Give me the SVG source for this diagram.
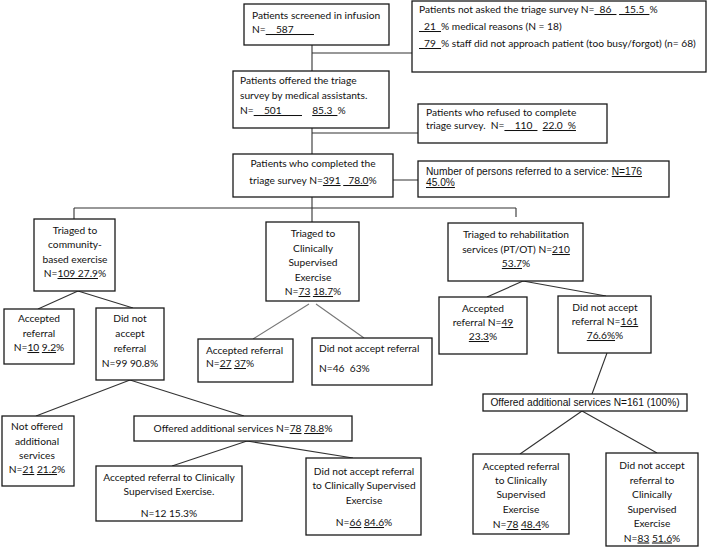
<svg xmlns="http://www.w3.org/2000/svg" width="708" height="550" viewBox="0 0 708 550">
<style>
.b{fill:#fff;stroke:#1a1a1a;stroke-width:1.3}
.t{font-family:Lato,"Liberation Sans",sans-serif;font-size:10.2px;fill:#111;white-space:pre}
.a{font-family:"Liberation Sans",Arial,sans-serif;font-size:10.2px;fill:#111;white-space:pre}
.c{text-anchor:middle}
.u{text-decoration:underline}
.ln{stroke:#333;stroke-width:1.1;fill:none}
.lg{stroke:#777;stroke-width:1.1;fill:none}
</style>
<rect width="708" height="550" fill="#fff"/>
<g id="connectors">
<path class="ln" d="M312,45V71M312,53H412M312,128V154M312,133H418M393,180H418M312,197V222M74,208H516M74,208V219M516,208V217"/>
<path class="ln" d="M78,291L38,309M78,291L133,308M130,380L36,416M130,380L244,416M247,441L172,466M247,441L353,458"/>
<path class="lg" d="M309,304L253,339M316,304L364,338"/>
<path class="ln" d="M523,281L487,297M523,281L606,296M607,353L592,394M582,411L520,454M582,411L657,453"/>
</g>
<g id="screened"><rect class="b" x="244" y="4" width="145" height="41"/>
<text class="t" x="252" y="19">Patients screened in infusion</text>
<text class="t" x="252" y="33">N=<tspan class="u">&#8194;&#8194;587&#8194;&#8194;&#8194;&#8194;</tspan></text></g>
<g id="notasked"><rect class="b" x="412" y="1" width="294" height="71"/>
<text class="t" x="419" y="13">Patients not asked the triage survey N=<tspan class="u">&#8194;86&#8194;</tspan> <tspan class="u">&#8194;15.5&#8194;</tspan>%</text>
<text class="t" x="419" y="30"><tspan class="u">&#8194;21&#8194;</tspan>% medical reasons (N = 18)</text>
<text class="t" x="419" y="47"><tspan class="u">&#8194;79&#8194;</tspan>% staff did not approach patient (too busy/forgot) (n= 68)</text></g>
<g id="offered"><rect class="b" x="233" y="71" width="156" height="57"/>
<text class="t" x="240" y="84">Patients offered the triage</text>
<text class="t" x="240" y="99">survey by medical assistants.</text>
<text class="t" x="240" y="114">N=<tspan class="u">&#8194;&#8194;501&#8194;&#8194;&#8194;&#8194;</tspan>&#8194;&#8194;<tspan class="u">85.3&#8194;</tspan>%</text></g>
<g id="refused"><rect class="b" x="418" y="104" width="189" height="39"/>
<text class="t" x="426" y="116">Patients who refused to complete</text>
<text class="t" x="426" y="129">triage survey.  N=<tspan class="u">&#8194;&#8194;110&#8194;</tspan>&#8194;<tspan class="u">22.0&#8194;%</tspan></text></g>
<g id="completed"><rect class="b" x="233" y="154" width="160" height="43"/>
<text class="t c" x="313" y="167">Patients who completed the</text>
<text class="t c" x="313" y="184">triage survey N=<tspan class="u">391</tspan> <tspan class="u">&#8194;78.0</tspan>%</text></g>
<g id="referred"><rect class="b" x="418" y="161" width="251" height="36"/>
<text class="a" x="426" y="175">Number of persons referred to a service: <tspan class="u">N=176</tspan></text>
<text class="a" x="426" y="186"><tspan class="u">45.0%</tspan></text></g>
<g id="community"><rect class="b" x="34" y="219" width="81" height="72"/>
<text class="t c" x="75" y="234">Triaged to</text>
<text class="t c" x="75" y="248">community-</text>
<text class="t c" x="75" y="263">based exercise</text>
<text class="t c" x="75" y="277">N=<tspan class="u">109 27.9</tspan>%</text></g>
<g id="clinical"><rect class="b" x="266" y="222" width="93" height="79"/>
<text class="t c" x="313" y="237">Triaged to</text>
<text class="t c" x="313" y="252">Clinically</text>
<text class="t c" x="313" y="266">Supervised</text>
<text class="t c" x="313" y="281">Exercise</text>
<text class="t c" x="313" y="295">N=<tspan class="u">73</tspan> <tspan class="u">18.7</tspan>%</text></g>
<g id="rehab"><rect class="b" x="448" y="223" width="135" height="58"/>
<text class="t c" x="516" y="238">Triaged to rehabilitation</text>
<text class="t c" x="516" y="253">services (PT/OT) N=<tspan class="u">210</tspan></text>
<text class="t c" x="516" y="267"><tspan class="u">53.7</tspan>%</text></g>
<g id="comm-accepted"><rect class="b" x="4" y="309" width="70" height="55"/>
<text class="t c" x="39" y="322">Accepted</text>
<text class="t c" x="39" y="337">referral</text>
<text class="t c" x="39" y="351">N=<tspan class="u">10</tspan> <tspan class="u">9.2</tspan>%</text></g>
<g id="comm-declined"><rect class="b" x="96" y="308" width="68" height="72"/>
<text class="t c" x="130" y="322">Did not</text>
<text class="t c" x="130" y="337">accept</text>
<text class="t c" x="130" y="352">referral</text>
<text class="t c" x="130" y="367">N=99 90.8%</text></g>
<g id="cse-accepted"><rect class="b" x="198" y="339" width="95" height="43"/>
<text class="t" x="206" y="354">Accepted referral</text>
<text class="t" x="206" y="367">N=<tspan class="u">27</tspan> <tspan class="u">37</tspan>%</text></g>
<g id="cse-declined"><rect class="b" x="312" y="338" width="120" height="47"/>
<text class="t" x="319" y="352">Did not accept referral</text>
<text class="t" x="319" y="372">N=46  63%</text></g>
<g id="rehab-accepted"><rect class="b" x="439" y="297" width="88" height="57"/>
<text class="t c" x="483" y="312">Accepted</text>
<text class="t c" x="483" y="326">referral N=<tspan class="u">49</tspan></text>
<text class="t c" x="483" y="340"><tspan class="u">23.3</tspan>%</text></g>
<g id="rehab-declined"><rect class="b" x="558" y="296" width="93" height="57"/>
<text class="t c" x="605" y="311">Did not accept</text>
<text class="t c" x="605" y="325">referral N=<tspan class="u">161</tspan></text>
<text class="t c" x="605" y="339"><tspan class="u">76.6%</tspan>%</text></g>
<g id="not-offered"><rect class="b" x="2" y="416" width="72" height="70"/>
<text class="t c" x="37" y="430">Not offered</text>
<text class="t c" x="37" y="445">additional</text>
<text class="t c" x="37" y="459">services</text>
<text class="t c" x="37" y="473">N=<tspan class="u">21</tspan> <tspan class="u">21.2</tspan>%</text></g>
<g id="offered-78"><rect class="b" x="134" y="416" width="218" height="25"/>
<text class="t c" x="243" y="432">Offered additional services N=<tspan class="u">78</tspan> <tspan class="u">78.8</tspan>%</text></g>
<g id="accepted-12"><rect class="b" x="96" y="466" width="146" height="55"/>
<text class="t c" x="169" y="481">Accepted referral to Clinically</text>
<text class="t c" x="169" y="495">Supervised Exercise.</text>
<text class="t c" x="169" y="517">N=12 15.3%</text></g>
<g id="declined-66"><rect class="b" x="306" y="458" width="115" height="77"/>
<text class="t c" x="364" y="475">Did not accept referral</text>
<text class="t c" x="364" y="489">to Clinically Supervised</text>
<text class="t c" x="364" y="504">Exercise</text>
<text class="t c" x="364" y="526">N=<tspan class="u">66</tspan> <tspan class="u">84.6</tspan>%</text></g>
<g id="offered-161"><rect class="b" x="483" y="394" width="204" height="17"/>
<text class="a c" x="585" y="406">Offered additional services N=161 (100%)</text></g>
<g id="accepted-78"><rect class="b" x="473" y="454" width="96" height="80"/>
<text class="t c" x="521" y="470">Accepted referral</text>
<text class="t c" x="521" y="484">to Clinically</text>
<text class="t c" x="521" y="498">Supervised</text>
<text class="t c" x="521" y="513">Exercise</text>
<text class="t c" x="521" y="528">N=<tspan class="u">78</tspan> <tspan class="u">48.4</tspan>%</text></g>
<g id="declined-83"><rect class="b" x="606" y="453" width="92" height="93"/>
<text class="t c" x="652" y="469">Did not accept</text>
<text class="t c" x="652" y="483.5">referral to</text>
<text class="t c" x="652" y="498">Clinically</text>
<text class="t c" x="652" y="512.5">Supervised</text>
<text class="t c" x="652" y="527">Exercise</text>
<text class="t c" x="652" y="541.5">N=<tspan class="u">83</tspan> <tspan class="u">51.6</tspan>%</text></g>
</svg>
